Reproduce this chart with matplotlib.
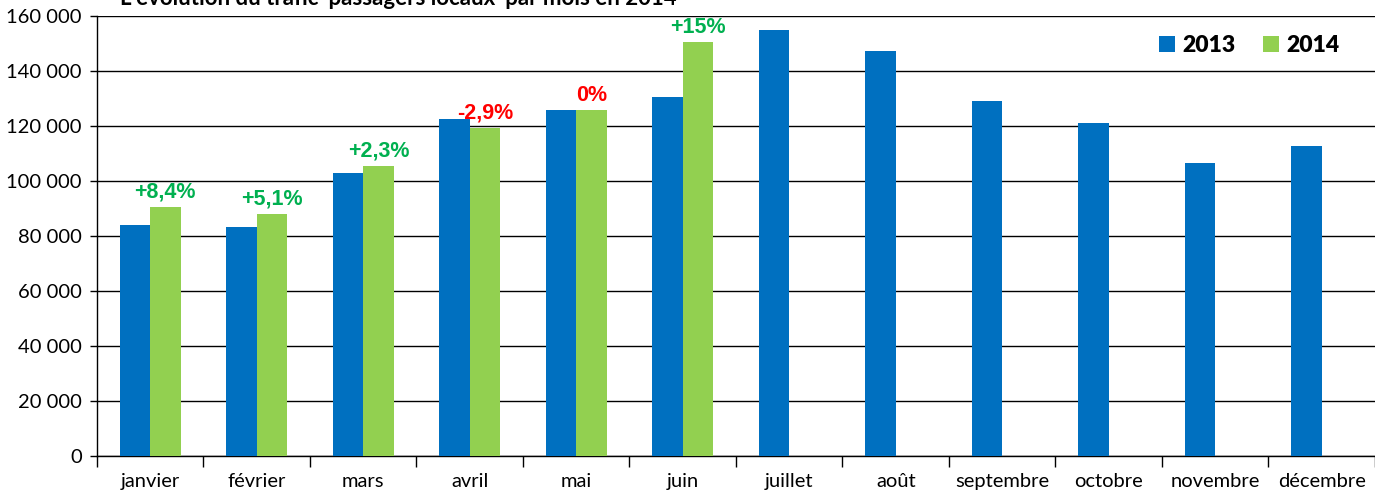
import numpy as np
import matplotlib.pyplot as plt
from matplotlib.ticker import FuncFormatter

# monthly local passenger traffic
mois = ['janvier', 'février', 'mars', 'avril', 'mai', 'juin', 'juillet',
        'août', 'septembre', 'octobre', 'novembre', 'décembre']
trafic_2013 = [84000, 83300, 102900, 122500, 125800, 130500, 154900,
               147300, 129100, 121100, 106500, 112700]
trafic_2014 = [90500, 88000, 105500, 119300, 125800, 150500]
evolution = ['+8,4%', '+5,1%', '+2,3%', '-2,9%', '0%', '+15%']

bleu = '#0070C0'
vert = '#92D050'

fig = plt.figure(figsize=(13.75, 4.99), dpi=100)
ax = fig.add_axes([0.0705, 0.0862, 0.9295, 0.8818])

x = np.arange(len(mois))
w = 0.285
ax.bar(x - w/2, trafic_2013, w, color=bleu, label='2013', zorder=3)
x14 = np.arange(len(trafic_2014))
ax.bar(x14 + w/2, trafic_2014, w, color=vert, label='2014', zorder=3)

# percentage labels above the 2014 bars
for xi, v, txt in zip(x14, trafic_2014, evolution):
    col = '#FF0000' if (txt.startswith('-') or txt == '0%') else '#00B050'
    ax.text(xi + w/2, v + 1500, txt, ha='center', va='bottom', color=col,
            fontsize=15.5, fontweight='bold', family='Liberation Sans')

ax.set_xlim(-0.5, len(mois) - 0.5)
ax.set_ylim(0, 160000)
ax.set_yticks(np.arange(0, 160001, 20000))
ax.yaxis.set_major_formatter(FuncFormatter(lambda v, p: f'{int(v):,}'.replace(',', ' ')))
ax.yaxis.grid(True, color='black', linewidth=1, zorder=0)

# category labels centred, tick marks at the boundaries
ax.set_xticks(np.arange(-0.5, len(mois), 1))
ax.set_xticklabels([])
ax.set_xticks(x, minor=True)
ax.set_xticklabels(mois, minor=True, fontsize=14.5, family='Lato')
ax.tick_params(axis='x', which='major', length=8, width=1, direction='out')
ax.tick_params(axis='x', which='minor', length=0, pad=12)
ax.tick_params(axis='y', length=5, width=1, labelsize=14.5, pad=6)
for lbl in ax.get_yticklabels():
    lbl.set_family('Lato')

for s in ['top', 'right']:
    ax.spines[s].set_visible(False)
ax.spines['left'].set_linewidth(1)
ax.spines['bottom'].set_linewidth(1)

leg = ax.legend(loc='upper right', bbox_to_anchor=(0.988, 1.004), ncol=2, frameon=False,
                prop={'family': 'Lato', 'weight': 'heavy', 'size': 16.5},
                handlelength=0.7, handleheight=0.7, columnspacing=1.2, handletextpad=0.3)

fig.text(0.087, 0.99, "L'évolution du trafic 'passagers locaux' par mois en 2014",
         fontsize=16, fontweight='bold', family='Lato', va='baseline', ha='left')

fig.savefig('out.png', dpi=100)
